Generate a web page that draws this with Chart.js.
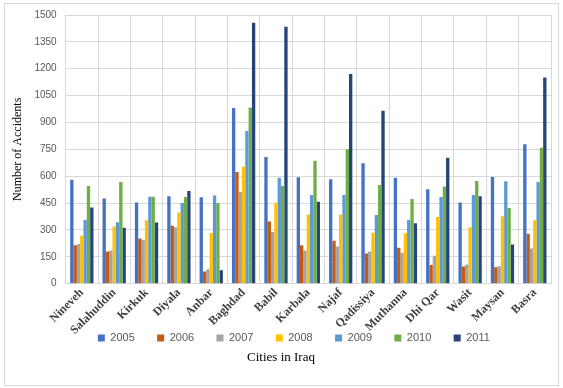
<!DOCTYPE html>
<html>
<head>
<meta charset="utf-8">
<script src="https://cdn.jsdelivr.net/npm/chart.js@4.4.1/dist/chart.umd.min.js"></script>
<style>
  html, body { margin: 0; padding: 0; background: #fff; }
  #frame { position: absolute; left: 4px; top: 3px; width: 553px; height: 381px; border: 1px solid #d9d9d9; }
  #wrap { position: absolute; left: 0; top: 0; width: 563px; height: 388px; }
</style>
</head>
<body>
<div id="frame"></div>
<div id="wrap"><canvas id="chart"></canvas></div>
<script>
var cities = ['Nineveh', 'Salahuddin', 'Kirkuk', 'Diyala', 'Anbar', 'Baghdad', 'Babil', 'Karbala',
              'Najaf', 'Qadissiya', 'Muthanna', 'Dhi Qar', 'Wasit', 'Maysan', 'Basra'];
var years = ['2005', '2006', '2007', '2008', '2009', '2010', '2011'];
var y2005 = [581, 476, 454, 488, 482, 981, 707, 594, 583, 673, 591, 527, 454, 596, 778];
var y2006 = [214, 180, 253, 324, 68, 623, 347, 214, 240, 169, 201, 105, 96, 92, 279];
var y2007 = [221, 186, 244, 315, 81, 512, 288, 186, 208, 180, 173, 156, 107, 98, 197];
var y2008 = [268, 319, 354, 398, 283, 653, 452, 386, 386, 285, 281, 373, 315, 377, 354];
var y2009 = [356, 343, 486, 450, 493, 853, 591, 495, 495, 383, 356, 484, 495, 572, 568];
var y2010 = [546, 568, 486, 484, 450, 984, 546, 686, 750, 551, 473, 542, 574, 422, 759];
var y2011 = [426, 313, 341, 518, 75, 1457, 1434, 458, 1170, 966, 338, 703, 488, 219, 1151];
var yTicks = [0, 150, 300, 450, 600, 750, 900, 1050, 1200, 1350, 1500];

var series = [y2005, y2006, y2007, y2008, y2009, y2010, y2011];
var colors = ['#4472c4', '#c55a11', '#a5a5a5', '#ffc000', '#5b9bd5', '#70ad47', '#264478'];

var datasets = [];
for (var i = 0; i < years.length; i++) {
    datasets.push({
        label: years[i],
        data: series[i],
        backgroundColor: colors[i],
        borderWidth: 0,
        barPercentage: 1,
        categoryPercentage: 0.72
    });
}

// legend items spread out like the original; a blank first item nudges the row right
function legendItems(chart){
    var items = Chart.defaults.plugins.legend.labels.generateLabels(chart);
    items.forEach(function(it, k){
        if (k < items.length - 1) it.text = it.text + '      ';
    });
    items.unshift({ text: '   ', fillStyle: 'rgba(0,0,0,0)', strokeStyle: 'rgba(0,0,0,0)',
                    lineWidth: 0, hidden: false, datasetIndex: -1 });
    return items;
}

// the x axis is made shorter so the slanted names reach down beside the legend;
// widen its clip box again so the names are not cut
var labelRoom = {
    id: 'labelRoom',
    afterLayout: function(chart){ chart.scales.x.bottom += 14; }
};

var myChart = new Chart(document.getElementById('chart'), {
    type: 'bar',
    data: { labels: cities, datasets: datasets },
    plugins: [labelRoom],
    options: {
        responsive: true,
        maintainAspectRatio: false,
        animation: false,
        layout: { padding: { left: 11, right: 12, top: 10, bottom: 23 } },
        scales: {
            x: {
                grid: { color: '#d9d9d9', offset: true, drawTicks: false },
                border: { color: '#d9d9d9' },
                afterFit: function(scale){ scale.height -= 11; },
                ticks: {
                    maxRotation: 45, minRotation: 45, padding: 2,
                    color: '#404040',
                    font: { family: '"Liberation Serif"', size: 12, weight: 'bold' }
                }
            },
            y: {
                min: 0, max: 1500,
                afterBuildTicks: function(axis){
                    axis.ticks = yTicks.map(function(v){ return { value: v }; });
                },
                grid: { color: '#d9d9d9', drawTicks: false },
                border: { display: false },
                ticks: {
                    padding: 9, color: '#595959',
                    font: { family: '"Liberation Sans"', size: 10 },
                    callback: function(v){ return String(v); }
                },
                title: {
                    display: true, text: 'Number of Accidents', color: '#000',
                    font: { family: '"Liberation Serif"', size: 12 },
                    padding: { top: 0, bottom: 0 }
                }
            }
        },
        plugins: {
            legend: {
                position: 'bottom',
                labels: {
                    boxWidth: 7, boxHeight: 7, padding: 4,
                    color: '#595959',
                    font: { family: '"Liberation Sans"', size: 11 },
                    generateLabels: legendItems
                }
            },
            title: {
                display: true, position: 'bottom', text: 'Cities in Iraq', color: '#000',
                font: { family: '"Liberation Serif"', size: 13, weight: 'normal' },
                padding: { top: -4, bottom: 0 }
            },
            tooltip: { enabled: false }
        }
    }
});
</script>
</body>
</html>
